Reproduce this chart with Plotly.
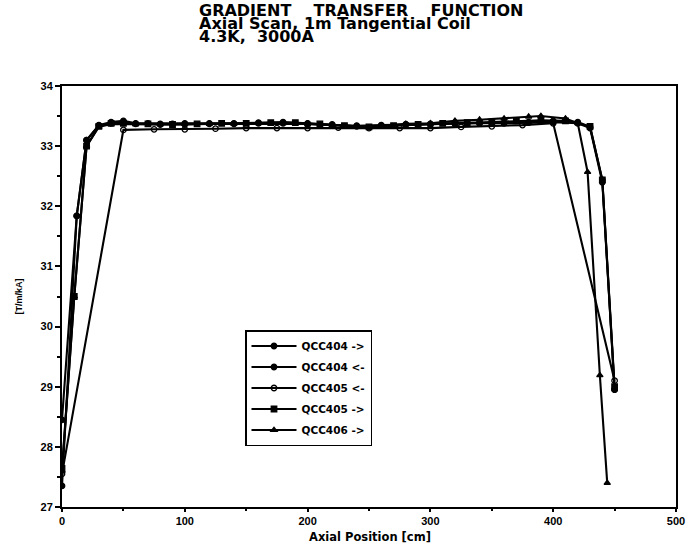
import plotly.graph_objects as go

# ---- data ----
x_404f = [0, 12, 20, 30, 40, 50, 60, 70, 80, 90, 100, 120, 140, 160, 180, 200, 220, 240, 260, 280,
          300, 320, 340, 360, 380, 400, 420, 430, 440, 450]
y_404f = [27.35, 31.84, 33.1, 33.35, 33.4, 33.42, 33.38, 33.38, 33.37, 33.37, 33.38, 33.38, 33.38, 33.39, 33.4, 33.38,
          33.36, 33.33, 33.34, 33.36, 33.37, 33.38, 33.38, 33.39, 33.4, 33.42, 33.4, 33.32, 32.44, 28.95]

x_404r = [0, 12, 20, 30, 40, 50, 60, 80, 100, 120, 140, 160, 180, 200, 220, 240, 260, 280,
          300, 320, 340, 360, 380, 400, 420, 430, 440, 450]
y_404r = [28.45, 31.84, 33.1, 33.34, 33.38, 33.4, 33.37, 33.36, 33.36, 33.37, 33.37, 33.38, 33.38, 33.37,
          33.35, 33.34, 33.35, 33.36, 33.36, 33.37, 33.38, 33.38, 33.39, 33.4, 33.38, 33.3, 32.4, 28.95]

x_405r = [0, 50, 75, 100, 125, 150, 175, 200, 225, 250, 275, 300, 325, 350, 375, 400, 450]
y_405r = [27.55, 33.27, 33.28, 33.28, 33.29, 33.3, 33.3, 33.3, 33.31, 33.3, 33.3, 33.3, 33.32, 33.33,
          33.35, 33.38, 29.1]

x_405f = [0, 10, 20, 30, 40, 50, 70, 90, 110, 130, 150, 170, 190, 210, 230, 250, 270, 290,
          310, 330, 350, 370, 390, 410, 430, 440, 450]
y_405f = [27.64, 30.5, 33.0, 33.33, 33.38, 33.38, 33.37, 33.36, 33.37, 33.38, 33.38, 33.39, 33.39, 33.37,
          33.34, 33.32, 33.34, 33.36, 33.38, 33.39, 33.4, 33.42, 33.43, 33.42, 33.33, 32.44, 29.0]

x_406f = [0, 10, 20, 30, 40, 60, 80, 100, 120, 140, 160, 180, 200, 220, 240, 260, 280, 300,
          320, 340, 360, 380, 390, 410, 420, 428, 438, 444]
y_406f = [27.6, 30.5, 33.0, 33.32, 33.37, 33.36, 33.36, 33.37, 33.37, 33.37, 33.38, 33.38, 33.37, 33.35,
          33.33, 33.34, 33.37, 33.38, 33.42, 33.44, 33.46, 33.49, 33.5, 33.46, 33.38, 32.57, 29.19, 27.4]

names = ["QCC404 ->", "QCC404 <-", "QCC405 <-", "QCC405 ->", "QCC406 ->"]
xs = [x_404f, x_404r, x_405r, x_405f, x_406f]
ys = [y_404f, y_404r, y_405r, y_405f, y_406f]
symbols = ["circle", "circle", "circle-open", "square", "triangle-up"]

x_ticks = [0, 100, 200, 300, 400, 500]
y_ticks = [27, 28, 29, 30, 31, 32, 33, 34]

title_lines = ["GRADIENT    TRANSFER    FUNCTION", "Axial Scan, 1m Tangential Coil", "4.3K,  3000A"]
x_title = "Axial Position [cm]"
y_title = "[T/m/kA]"

FONT = "Liberation Sans"
TFONT = "DejaVu Sans"

fig = go.Figure()
for i, (nm, xx, yy, sym) in enumerate(zip(names, xs, ys, symbols)):
    fig.add_trace(go.Scatter(
        x=xx, y=yy, name=nm, mode="lines+markers",
        line=dict(color="black", width=2.1),
        marker=dict(symbol=sym, size=5.5, color="black",
                    line=dict(color="black", width=1.3)),
        legendgroup=f"g{i}",
    ))

L, R, T, B = 62, 12, 86, 41
PW, PH = 688 - L - R, 548 - T - B

fig.update_layout(
    width=688, height=548,
    margin=dict(l=L, r=R, t=T, b=B, autoexpand=False),
    paper_bgcolor="white", plot_bgcolor="white",
    font=dict(family=FONT, color="black"),
    showlegend=True,
    legend=dict(
        x=(245 - L) / PW, y=(548 - B - 330) / PH, xanchor="left", yanchor="top",
        bgcolor="white", bordercolor="black", borderwidth=1.5,
        font=dict(family=TFONT, size=10.5, color="black", weight="bold"),
        tracegroupgap=2, itemwidth=45,
    ),
)

fig.update_xaxes(
    range=[0, 500], tickvals=x_ticks, ticktext=[str(v) for v in x_ticks],
    showgrid=False, zeroline=False, automargin=False,
    showline=True, linecolor="black", linewidth=2, mirror=True,
    ticks="outside", ticklen=3, tickwidth=1.5, tickcolor="black",
    minor=dict(dtick=50, ticks="outside", ticklen=2, tickcolor="black"),
    tickfont=dict(family=FONT, size=11, weight="bold"),
)
fig.update_yaxes(
    range=[27, 34], tickvals=y_ticks, ticktext=[str(v) for v in y_ticks],
    showgrid=False, zeroline=False, automargin=False,
    showline=True, linecolor="black", linewidth=2, mirror=True,
    ticks="outside", ticklen=5, tickwidth=1.5, tickcolor="black",
    minor=dict(dtick=0.5, ticks="outside", ticklen=3, tickcolor="black"),
    tickfont=dict(family=FONT, size=11, weight="bold"),
    title=dict(text=y_title, font=dict(family=FONT, size=9, weight="bold"), standoff=16),
)

fig.add_annotation(
    text=x_title, xref="paper", yref="paper", x=(370 - L) / PW, y=-(537 - (548 - B)) / PH,
    xanchor="center", yanchor="middle", showarrow=False, borderpad=0,
    font=dict(family=TFONT, size=11.5, color="black", weight="bold"),
)

for k, t in enumerate(title_lines):
    cy = 10.5 + 13 * k  # vertical centre of the line, px from the top
    fig.add_annotation(
        text=t, xref="paper", yref="paper", x=(198 - L) / PW, y=1 + (T - cy) / PH,
        xanchor="left", yanchor="middle", showarrow=False, borderpad=0,
        font=dict(family=TFONT, size=16, color="black", weight="bold"),
    )

fig.write_html("out.html", config={"displayModeBar": False},
               post_script="document.body.style.margin='0';")
